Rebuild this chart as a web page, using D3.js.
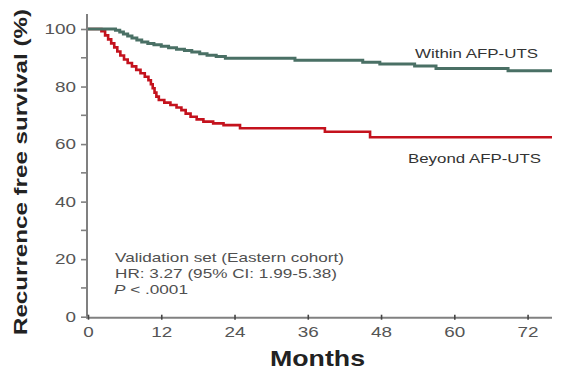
<!DOCTYPE html>
<html>
<head>
<meta charset="utf-8">
<script src="https://cdn.jsdelivr.net/npm/d3@7/dist/d3.min.js"></script>
<style>
  html, body { margin: 0; padding: 0; background: #fff; }
  svg { display: block; font-family: "Liberation Sans", Arial, Helvetica, sans-serif; }
</style>
</head>
<body>
<svg id="chart" width="577" height="376"></svg>
<script>
// Kaplan–Meier recurrence-free survival, validation set (Eastern cohort)
const xTicks = [0, 12, 24, 36, 48, 60, 72];
const yTicks = [0, 20, 40, 60, 80, 100];
const yMinorTicks = [10, 30, 50, 70, 90];

// step changes: month at which the curve drops, and the new survival (%)
const withinMonths = [0, 4.5, 5.2, 5.8, 6.5, 7.2, 8, 8.8, 9.8, 10.8, 12, 13.2, 14.5, 15.8, 17, 18.3, 19.5, 21, 22.5, 33.9, 45, 47.8, 53.5, 57, 68.8, 76];
const withinSurv   = [100, 99.6, 99, 98.3, 97.6, 96.9, 96.2, 95.5, 95, 94.5, 94, 93.5, 93, 92.5, 92, 91.4, 90.9, 90.4, 89.8, 89.1, 88.4, 87.8, 87.1, 86.3, 85.5, 85.5];

const beyondMonths = [0, 2.2, 2.8, 3.3, 3.8, 4.3, 4.8, 5.3, 5.9, 6.5, 7.2, 7.9, 8.6, 9.3, 9.9, 10.3, 10.6, 10.9, 11.2, 11.6, 12.5, 13.5, 14.5, 15.3, 16, 16.8, 17.8, 18.9, 20.5, 22.2, 24.9, 38.8, 46.2, 76];
const beyondSurv   = [100, 99.2, 97.8, 96.4, 95, 93.6, 92.2, 90.8, 89.4, 88.2, 87, 85.8, 84.6, 83.4, 82.2, 80.8, 79.4, 77.9, 76.5, 75.3, 74.4, 73.6, 72.7, 71.8, 70.6, 69.5, 68.6, 67.8, 67.2, 66.6, 65.5, 64.3, 62.4, 62.4];

const svg = d3.select("#chart");
const x = d3.scaleLinear().domain([0, 76]).range([88, 552]);
const y = d3.scaleLinear().domain([0, 100]).range([316.7, 29]);

const axisColor = "#808080";
const labelColor = "#555";

// widen digit labels slightly (about 10.5px per character)
function styleTickText(sel) {
  sel.attr("fill", labelColor).attr("font-size", 15)
    .attr("font-family", "Liberation Sans, Arial, sans-serif")
    .attr("textLength", function () { return this.textContent.length * 10.5; })
    .attr("lengthAdjust", "spacingAndGlyphs");
}

// y axis
const yAxis = svg.append("g").attr("transform", `translate(${x(0) - 1},0)`)
  .call(d3.axisLeft(y).tickValues(yTicks).tickSize(6).tickPadding(5));
yAxis.select(".domain").attr("d", `M0,14V${y(0)}`).attr("stroke", axisColor).attr("stroke-width", 2);
yAxis.selectAll(".tick line").attr("stroke", axisColor).attr("stroke-width", 1.6);
yAxis.selectAll(".tick text").call(styleTickText);
yAxis.selectAll(".minor").data(yMinorTicks).enter().append("line")
  .attr("x1", -6).attr("x2", 0).attr("y1", d => y(d)).attr("y2", d => y(d))
  .attr("stroke", axisColor).attr("stroke-width", 1.6);

// x axis
const xAxis = svg.append("g").attr("transform", `translate(0,${y(0) + 1})`)
  .call(d3.axisBottom(x).tickValues(xTicks).tickSize(3).tickPadding(6));
xAxis.select(".domain").attr("d", `M${x(0) - 2},0H${x(76)}`).attr("stroke", axisColor).attr("stroke-width", 2);
xAxis.selectAll(".tick line").attr("y1", -3).attr("y2", 2).attr("stroke", "#444").attr("stroke-width", 1.6);
xAxis.selectAll(".tick text").call(styleTickText);

// survival curves
const line = d3.line().curve(d3.curveStepAfter).x(d => x(d[0])).y(d => y(d[1]));
svg.append("path").datum(d3.zip(beyondMonths, beyondSurv)).attr("d", line)
  .attr("fill", "none").attr("stroke", "#c4121d").attr("stroke-width", 2.6);
svg.append("path").datum(d3.zip(withinMonths, withinSurv)).attr("d", line)
  .attr("fill", "none").attr("stroke", "#4a7065").attr("stroke-width", 3);

// curve labels
svg.append("text").attr("x", 415).attr("y", 58).attr("font-size", 13.5).attr("fill", "#333")
  .attr("textLength", 123).attr("lengthAdjust", "spacingAndGlyphs").text("Within AFP-UTS");
svg.append("text").attr("x", 408).attr("y", 163).attr("font-size", 13.5).attr("fill", "#333")
  .attr("textLength", 133).attr("lengthAdjust", "spacingAndGlyphs").text("Beyond AFP-UTS");

// statistics annotation
const ann = svg.append("g").attr("font-size", 13).attr("fill", "#505050");
ann.append("text").attr("x", 115).attr("y", 262).attr("textLength", 229).attr("lengthAdjust", "spacingAndGlyphs")
  .text("Validation set (Eastern cohort)");
ann.append("text").attr("x", 115).attr("y", 278).attr("textLength", 222).attr("lengthAdjust", "spacingAndGlyphs")
  .text("HR: 3.27 (95% CI: 1.99-5.38)");
const p = ann.append("text").attr("x", 114).attr("y", 294)
  .attr("textLength", 74).attr("lengthAdjust", "spacingAndGlyphs");
p.append("tspan").attr("font-style", "italic").text("P");
p.append("tspan").text(" < .0001");

// axis titles
svg.append("text").attr("x", 270).attr("y", 366).attr("font-size", 22).attr("font-weight", "bold").attr("fill", "#222")
  .attr("textLength", 95).attr("lengthAdjust", "spacingAndGlyphs").text("Months");
svg.append("text").attr("transform", "translate(27,335) rotate(-90)").attr("font-size", 19).attr("font-weight", "bold").attr("fill", "#222")
  .attr("textLength", 326).attr("lengthAdjust", "spacingAndGlyphs").text("Recurrence free survival (%)");
</script>
</body>
</html>
